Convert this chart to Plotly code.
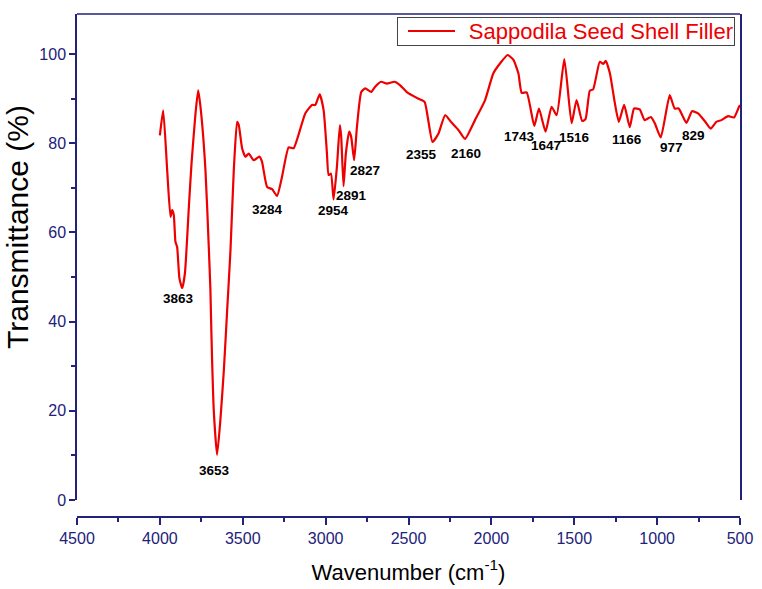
import plotly.graph_objects as go

# Wavenumber (cm-1) and transmittance (%)
wavenumber = [4000, 3980, 3956, 3936, 3926, 3916, 3906, 3896, 3882, 3865, 3849, 3825, 3809,
              3785, 3769, 3755, 3725, 3705, 3695, 3691, 3685, 3675, 3655, 3635, 3614, 3594,
              3574, 3554, 3534, 3524, 3504, 3484, 3464, 3434, 3400, 3384, 3353, 3323, 3293,
              3263, 3223, 3193, 3123, 3082, 3062, 3036, 3012, 2992, 2982, 2968, 2952, 2932,
              2914, 2906, 2892, 2878, 2858, 2846, 2828, 2811, 2785, 2761, 2725, 2701, 2665,
              2631, 2584, 2550, 2510, 2440, 2403, 2384, 2355, 2319, 2279, 2239, 2199, 2159,
              2099, 2038, 1988, 1948, 1902, 1867, 1837, 1817, 1787, 1741, 1713, 1673, 1637,
              1606, 1560, 1516, 1486, 1452, 1432, 1406, 1386, 1346, 1325, 1310, 1285, 1255,
              1231, 1199, 1165, 1139, 1105, 1075, 1038, 1014, 978, 924, 894, 870, 823, 789,
              753, 713, 677, 643, 612, 572, 536, 506, 500]
transmittance = [81.8, 87.4, 74.0, 63.5, 65.0, 63.9, 57.9, 56.8, 49.7, 47.5, 50.8, 65.8, 75.5,
                 86.7, 91.9, 88.2, 74.0, 56.8, 47.0, 40.4, 31.4, 20.2, 10.1, 17.9, 29.1, 42.6,
                 56.0, 74.0, 84.8, 84.1, 78.9, 77.0, 77.7, 76.2, 77.0, 75.9, 70.2, 69.7, 68.2,
                 72.5, 79.1, 78.9, 86.7, 88.6, 88.6, 91.0, 87.4, 77.7, 72.9, 73.2, 67.4, 74.7,
                 84.1, 81.5, 70.4, 77.7, 82.6, 81.5, 76.2, 83.7, 91.5, 92.3, 91.5, 92.7, 93.8,
                 93.4, 93.8, 93.0, 91.5, 90.0, 89.3, 85.9, 80.3, 82.2, 86.3, 84.6, 83.0, 81.0,
                 85.2, 89.7, 95.7, 97.9, 99.8, 98.7, 95.7, 91.3, 91.4, 83.9, 87.8, 82.6, 88.2,
                 86.3, 98.9, 84.5, 89.7, 85.0, 85.4, 91.8, 92.1, 98.3, 97.8, 98.5, 95.7, 89.0,
                 84.8, 88.6, 83.6, 87.8, 87.6, 85.2, 85.9, 84.5, 81.3, 90.8, 87.8, 87.8, 84.6,
                 87.2, 86.7, 85.0, 83.3, 84.8, 85.2, 86.1, 85.8, 88.2, 88.6]

series_name = "Sappodila Seed Shell Filler"

# Peak labels
peak_labels = ["3863", "3653", "3284", "2954", "2891", "2827", "2355", "2160",
               "1743", "1647", "1516", "1166", "977", "829"]
label_x = [3885, 3673, 3348, 2950, 2841, 2762, 2419, 2153, 1833, 1670, 1501, 1182, 916, 778]
label_y = [45.3, 6.7, 65.2, 65.0, 68.2, 74.0, 77.6, 77.8, 81.6, 79.4, 81.2, 80.9, 79.1, 81.8]

x_ticks = [4500, 4000, 3500, 3000, 2500, 2000, 1500, 1000, 500]
y_ticks = [0, 20, 40, 60, 80, 100]

NAVY = "#22227a"
RED = "#ee0000"
FONT = "Liberation Sans, Arial, sans-serif"

# plot area in pixels (for paper-coordinate placement)
L, R, T, B = 77, 740, 14, 517
def px_x(px):
    return (px - L) / (R - L)
def px_y(py):
    return (B - py) / (B - T)

fig = go.Figure()
fig.add_trace(go.Scatter(
    x=wavenumber, y=transmittance, mode="lines",
    line=dict(color=RED, width=2.2, shape="spline", smoothing=0.5),
    name=series_name, showlegend=False,
))

for t, x, y in zip(peak_labels, label_x, label_y):
    fig.add_annotation(x=x, y=y, text=f"<b>{t}</b>", showarrow=False,
                       font=dict(family=FONT, size=13.5, color="black"))

# legend box (key line + name)
fig.add_annotation(xref="paper", yref="paper", x=px_x(735), y=px_y(17),
                   xanchor="right", yanchor="top", showarrow=False,
                   text=series_name, align="right", valign="middle",
                   width=334, height=25, borderpad=1,
                   bgcolor="rgba(0,0,0,0)", bordercolor="#444444", borderwidth=1,
                   font=dict(family=FONT, size=22, color=RED))
fig.add_shape(type="line", xref="paper", yref="paper",
              x0=px_x(408), x1=px_x(455), y0=px_y(31), y1=px_y(31),
              line=dict(color=RED, width=2.2))

# y axis title
fig.add_annotation(xref="paper", yref="paper", x=px_x(18), y=px_y(227),
                   xanchor="center", yanchor="middle", showarrow=False,
                   text="Transmittance (%)", textangle=-90,
                   font=dict(family=FONT, size=30, color="black"))

y_bottom = (B - 500) / (B - T)

fig.update_layout(
    width=762, height=589,
    margin=dict(l=L, r=762 - R, t=T, b=589 - B, autoexpand=False),
    plot_bgcolor="white", paper_bgcolor="white",
    font=dict(family=FONT, color=NAVY),
    showlegend=False,
    xaxis=dict(range=[4500, 500], tickvals=x_ticks, ticktext=[str(v) for v in x_ticks],
               anchor="free", position=0, automargin=False,
               showline=True, linecolor=NAVY, linewidth=2,
               ticks="outside", ticklen=7, tickwidth=2, tickcolor=NAVY,
               minor=dict(ticks="outside", ticklen=4, tickwidth=1.5, tickcolor=NAVY, dtick=250),
               tickfont=dict(family=FONT, size=16, color=NAVY),
               showgrid=False, zeroline=False,
               title=dict(text="Wavenumber (cm<sup>-1</sup>)", standoff=17,
                          font=dict(family=FONT, size=22, color="black"))),
    yaxis=dict(range=[0, 109], domain=[y_bottom, 1], tickvals=y_ticks, automargin=False,
               showline=True, linecolor=NAVY, linewidth=1.5, mirror=True,
               ticks="outside", ticklen=6, tickwidth=2, tickcolor=NAVY,
               minor=dict(ticks="outside", ticklen=4, tickwidth=1.5, tickcolor=NAVY, dtick=10),
               tickfont=dict(family=FONT, size=16, color=NAVY),
               showgrid=False, zeroline=False),
)

fig.add_shape(type="line", xref="paper", yref="paper", x0=0, x1=1, y0=1, y1=1,
              line=dict(color=NAVY, width=1.5))

fig.write_html("out.html", config={"displayModeBar": False},
               post_script="document.body.style.margin='0';")
